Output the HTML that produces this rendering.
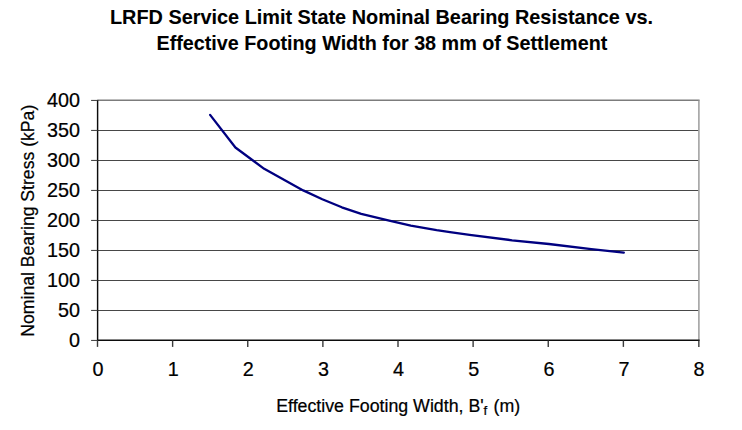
<!DOCTYPE html>
<html lang="en">
<head>
<meta charset="utf-8">
<title>LRFD Service Limit State Nominal Bearing Resistance vs. Effective Footing Width</title>
<style>
html,body{margin:0;padding:0;background:#fff;}
body{width:742px;height:430px;overflow:hidden;}
svg{display:block;}
text{font-family:"Liberation Sans",Arial,sans-serif;fill:#000;stroke:#000;stroke-width:0.22px;}
.title{font-weight:bold;font-size:19.88px;text-anchor:middle;stroke-width:0.08px;}
.t2{font-size:19.75px;}
.tick{font-size:19.8px;}
.lab{font-size:17.62px;}
.xl{font-size:17.78px;}
.sub{font-size:13.3px;}
</style>
</head>
<body>
<svg width="742" height="430" viewBox="0 0 742 430">
<rect x="0" y="0" width="742" height="430" fill="#ffffff"/>
<text class="title" x="381.5" y="23.7">LRFD Service Limit State Nominal Bearing Resistance vs.</text>
<text class="title t2" x="381.9" y="49.6">Effective Footing Width for 38 mm of Settlement</text>
<g stroke-width="1.3" stroke-linecap="butt">
<line x1="97.5" y1="310.45" x2="698.5" y2="310.45" stroke="#484848" stroke-width="1.1"/>
<line x1="97.5" y1="280.45" x2="698.5" y2="280.45" stroke="#484848" stroke-width="1.1"/>
<line x1="97.5" y1="250.45" x2="698.5" y2="250.45" stroke="#484848" stroke-width="1.1"/>
<line x1="97.5" y1="220.45" x2="698.5" y2="220.45" stroke="#484848" stroke-width="1.1"/>
<line x1="97.5" y1="190.45" x2="698.5" y2="190.45" stroke="#484848" stroke-width="1.1"/>
<line x1="97.5" y1="160.45" x2="698.5" y2="160.45" stroke="#484848" stroke-width="1.1"/>
<line x1="97.5" y1="130.45" x2="698.5" y2="130.45" stroke="#484848" stroke-width="1.1"/>
<line x1="97.5" y1="100.25" x2="699.6" y2="100.25" stroke="#7c7c7c" stroke-width="1.4"/>
<line x1="698.9" y1="100.5" x2="698.9" y2="340.5" stroke="#9c9c9c" stroke-width="1.5"/>
<line x1="97.6" y1="99.9" x2="97.6" y2="341.0" stroke="#0c0c0c" stroke-width="1.45"/>
<line x1="97.5" y1="340.25" x2="699.6" y2="340.25" stroke="#0c0c0c" stroke-width="1.45"/>
<line x1="91.1" y1="340.45" x2="97.5" y2="340.45" stroke="#484848" stroke-width="1.1"/>
<line x1="91.1" y1="310.45" x2="97.5" y2="310.45" stroke="#484848" stroke-width="1.1"/>
<line x1="91.1" y1="280.45" x2="97.5" y2="280.45" stroke="#484848" stroke-width="1.1"/>
<line x1="91.1" y1="250.45" x2="97.5" y2="250.45" stroke="#484848" stroke-width="1.1"/>
<line x1="91.1" y1="220.45" x2="97.5" y2="220.45" stroke="#484848" stroke-width="1.1"/>
<line x1="91.1" y1="190.45" x2="97.5" y2="190.45" stroke="#484848" stroke-width="1.1"/>
<line x1="91.1" y1="160.45" x2="97.5" y2="160.45" stroke="#484848" stroke-width="1.1"/>
<line x1="91.1" y1="130.45" x2="97.5" y2="130.45" stroke="#484848" stroke-width="1.1"/>
<line x1="91.1" y1="100.45" x2="97.5" y2="100.45" stroke="#484848" stroke-width="1.1"/>
<line x1="97.50" y1="340.5" x2="97.50" y2="346.9" stroke="#3a3a3a" stroke-width="1.4"/>
<line x1="172.62" y1="340.5" x2="172.62" y2="346.9" stroke="#3a3a3a" stroke-width="1.4"/>
<line x1="247.75" y1="340.5" x2="247.75" y2="346.9" stroke="#3a3a3a" stroke-width="1.4"/>
<line x1="322.88" y1="340.5" x2="322.88" y2="346.9" stroke="#3a3a3a" stroke-width="1.4"/>
<line x1="398.00" y1="340.5" x2="398.00" y2="346.9" stroke="#3a3a3a" stroke-width="1.4"/>
<line x1="473.12" y1="340.5" x2="473.12" y2="346.9" stroke="#3a3a3a" stroke-width="1.4"/>
<line x1="548.25" y1="340.5" x2="548.25" y2="346.9" stroke="#3a3a3a" stroke-width="1.4"/>
<line x1="623.38" y1="340.5" x2="623.38" y2="346.9" stroke="#3a3a3a" stroke-width="1.4"/>
<line x1="698.85" y1="340.5" x2="698.85" y2="346.9" stroke="#3a3a3a" stroke-width="1.4"/>
</g>
<path d="M210.1,114.9 L235.4,147.5 L264.2,168.8 L303.2,190.4 L322.3,199.2 L341.8,207.3 L361.2,213.8 L389.2,220.7 L410.8,225.7 L436.6,230.2 L450.0,232.1 L469.6,234.9 L512.1,240.3 L548.9,244.0 L591.3,249.1 L623.8,252.7" fill="none" stroke="#000080" stroke-width="2.3" stroke-linejoin="round" stroke-linecap="round"/>
<text class="tick" x="80" y="347.1" text-anchor="end">0</text>
<text class="tick" x="80" y="317.1" text-anchor="end">50</text>
<text class="tick" x="80" y="287.1" text-anchor="end">100</text>
<text class="tick" x="80" y="257.1" text-anchor="end">150</text>
<text class="tick" x="80" y="227.1" text-anchor="end">200</text>
<text class="tick" x="80" y="197.1" text-anchor="end">250</text>
<text class="tick" x="80" y="167.1" text-anchor="end">300</text>
<text class="tick" x="80" y="137.1" text-anchor="end">350</text>
<text class="tick" x="80" y="107.1" text-anchor="end">400</text>
<text class="tick" x="98.1" y="375.6" text-anchor="middle">0</text>
<text class="tick" x="173.2" y="375.6" text-anchor="middle">1</text>
<text class="tick" x="248.3" y="375.6" text-anchor="middle">2</text>
<text class="tick" x="323.5" y="375.6" text-anchor="middle">3</text>
<text class="tick" x="398.6" y="375.6" text-anchor="middle">4</text>
<text class="tick" x="473.7" y="375.6" text-anchor="middle">5</text>
<text class="tick" x="548.9" y="375.6" text-anchor="middle">6</text>
<text class="tick" x="624.0" y="375.6" text-anchor="middle">7</text>
<text class="tick" x="699.1" y="375.6" text-anchor="middle">8</text>
<text class="lab" transform="translate(33.6,336.7) rotate(-90)">Nominal Bearing Stress (kPa)</text>
<text class="xl" x="276.2" y="411.9">Effective Footing Width, B'<tspan class="sub" dx="-0.2" dy="3.1">f</tspan><tspan dy="-3.1" dx="1.4"> (m)</tspan></text>
</svg>
</body>
</html>
